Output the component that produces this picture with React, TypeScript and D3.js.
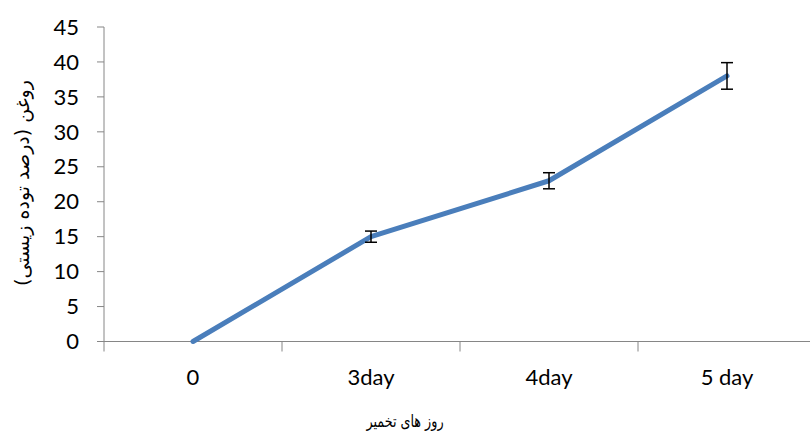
import React from "react";
import * as d3 from "d3";

const categories = ["0", "3day", "4day", "5 day"];
const values = [0, 15, 23, 38];
const errors = [0, 0.8, 1.15, 1.9];
const yTicks = [0, 5, 10, 15, 20, 25, 30, 35, 40, 45];

export default function App() {
  const W = 810, H = 432;
  const left = 104, right = 816, top = 27, bottom = 341.5;
  const x = d3.scaleBand().domain(categories).range([left, right]);
  const y = d3.scaleLinear().domain([0, 45]).range([bottom, top]);
  const cx = (c: string) => (x(c) as number) + x.bandwidth() / 2;
  const line = d3.line<number>().x((_, i) => cx(categories[i])).y((v) => y(v));
  const axisColor = "#868686";
  const font = "Lato, 'Open Sans', sans-serif";
  return (
    <svg width={W} height={H} style={{ position: "absolute", left: 0, top: 0, background: "#fff" }}>
      <line x1={left} x2={left} y1={top} y2={bottom} stroke={axisColor} strokeWidth={1} />
      {yTicks.map((t) => (
        <g key={t}>
          <line x1={left - 7} x2={left} y1={y(t)} y2={y(t)} stroke={axisColor} />
          <text x={79} y={y(t)} dy="0.35em" textAnchor="end" fontFamily={font} fontSize={22} fill="#000">
            {t}
          </text>
        </g>
      ))}
      <line x1={left - 7} x2={W} y1={bottom} y2={bottom} stroke={axisColor} />
      {categories.map((c) => (
        <g key={c}>
          <line x1={x(c) as number} x2={x(c) as number} y1={bottom} y2={bottom + 10} stroke={axisColor} />
          <text x={cx(c)} y={385} textAnchor="middle" fontFamily={font} fontSize={22} fill="#000">
            {c}
          </text>
        </g>
      ))}
      <path d={line(values) || ""} fill="none" stroke="#4a7ebb" strokeWidth={5} strokeLinejoin="round" strokeLinecap="round" />
      {values.map((v, i) =>
        errors[i] > 0 ? (
          <g key={i} stroke="#000" strokeWidth={1.5}>
            <line x1={cx(categories[i])} x2={cx(categories[i])} y1={y(v + errors[i])} y2={y(v - errors[i])} />
            <line x1={cx(categories[i]) - 6} x2={cx(categories[i]) + 6} y1={y(v + errors[i])} y2={y(v + errors[i])} />
            <line x1={cx(categories[i]) - 6} x2={cx(categories[i]) + 6} y1={y(v - errors[i])} y2={y(v - errors[i])} />
          </g>
        ) : null
      )}
      <text transform="translate(405,427) scale(0.75,1)" textAnchor="middle" fontFamily="'DejaVu Sans', serif" fontSize={17} direction="rtl">
        روز های تخمیر
      </text>
      <text transform="translate(29,183) rotate(-90)" textAnchor="middle" fontFamily="'DejaVu Sans', serif" fontSize={19} direction="rtl">
        روغن (درصد توده زیستی)
      </text>
    </svg>
  );
}
